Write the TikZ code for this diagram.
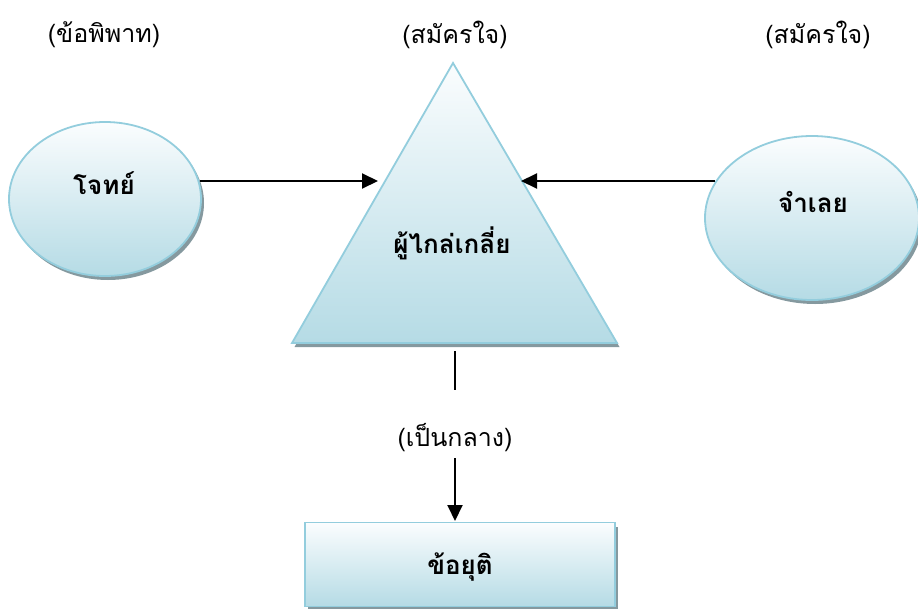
\documentclass[tikz,border=0pt]{standalone}
\usepackage{fontspec}
\newfontfamily\thaifont[Script=Thai]{Loma}
\usetikzlibrary{shapes.geometric,arrows.meta,shadows}
\definecolor{edgecol}{HTML}{93CDDD}
\definecolor{topcol}{HTML}{FBFDFE}
\definecolor{botcol}{HTML}{B5DBE5}
\definecolor{shadcol}{HTML}{85999F}
\tikzset{
  blob/.style={draw=edgecol, line width=1.8pt, top color=topcol, bottom color=botcol,
    drop shadow={shadow xshift=3pt, shadow yshift=-4pt, fill=shadcol, opacity=1}},
  toplabel/.style={font=\thaifont\fontsize{25}{28}\selectfont, inner sep=1pt},
  inlabel/.style={font=\thaifont\bfseries\fontsize{26}{29}\selectfont, inner sep=1pt},
  conn/.style={line width=2pt, black},
  arr/.style={conn, -{Triangle[length=16pt,width=15pt]}}
}
\begin{document}
\begin{tikzpicture}[x=1pt,y=-1pt]
\useasboundingbox (0,0) rectangle (918,608);
% top labels
\node[toplabel] (lab1) at (104,35) {(ข้อพิพาท)};
\node[toplabel] (lab2) at (455,35) {(สมัครใจ)};
\node[toplabel] (lab3) at (818,35) {(สมัครใจ)};
% left ellipse
\node[blob, ellipse, minimum width=192pt, minimum height=154pt] (plain) at (105,199) {};
\node[inlabel] (plaint) at (104,183) {โจทย์};
% right ellipse
\node[blob, ellipse, minimum width=214pt, minimum height=164pt] (def) at (812,218) {};
\node[inlabel] (deft) at (813,202) {จำเลย};
% triangle
\fill[shadcol] (294.5,347) -- (455,67) -- (619.5,347) -- cycle;
\path[draw=edgecol, line width=1.8pt, top color=topcol, bottom color=botcol]
  (292,343) -- (453,63) -- (617,343) -- cycle;
\node[inlabel] (med) at (452,243) {ผู้ไกล่เกลี่ย};
\coordinate (triL) at (378,181);
\coordinate (triR) at (521,181);
\coordinate (triB) at (455,351);
% box
\node[blob, rectangle, minimum width=310pt, minimum height=84pt, inner sep=0pt] (res) at (460,564.5) {};
\node[inlabel] (rest) at (460,567) {ข้อยุติ};
% neutral label
\node[toplabel] (neut) at (455,438) {(เป็นกลาง)};
\coordinate (boxtop) at (455,521);
\coordinate (neutbot) at (455,458);
% connectors
\draw[arr] (200,181) -- (triL);
\draw[arr] (715,181) -- (triR);
\draw[conn] (triB) -- (455,390);
\draw[arr] (neutbot) -- (boxtop);
\end{tikzpicture}
\end{document}
